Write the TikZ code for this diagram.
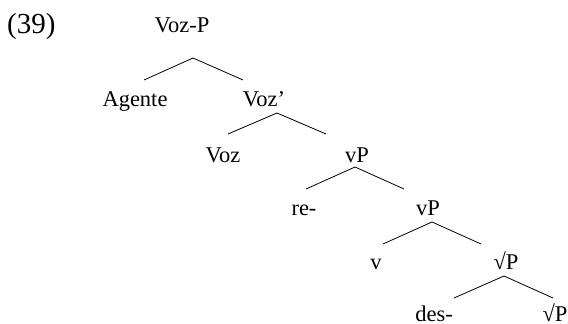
\documentclass[tikz,border=0pt]{standalone}
\usepackage{fontspec}
\setmainfont{Liberation Serif}
\begin{document}
\begin{tikzpicture}[x=1pt,y=-1pt,
  lbl/.style={anchor=base,inner sep=0pt,font=\fontsize{22.5}{27}\selectfont},
  exlbl/.style={anchor=base west,inner sep=0pt,font=\fontsize{29}{34}\selectfont},
  branch/.style={line width=0.8pt,black}]
\useasboundingbox (0,0) rectangle (568,324);
% labels
\node[exlbl] (ex) at (7,33) {(39)};
\node[lbl] (VozP) at (182,32) {Voz-P};
\node[lbl] (Agente) at (135,106) {Agente};
\node[lbl] (Vozbar) at (264,106) {Voz’};
\node[lbl] (Voz) at (223,162) {Voz};
\node[lbl] (vPa) at (357,162) {vP};
\node[lbl] (re) at (304,215) {re-};
\node[lbl] (vPb) at (428,215) {vP};
\node[lbl] (v) at (376,269) {v};
\node[lbl] (rPa) at (506,269) {√P};
\node[lbl] (des) at (434,321) {des-};
\node[lbl] (rPb) at (555,321) {√P};
% branch points
\coordinate (t1) at (193,58);  \coordinate (l1) at (144,80);  \coordinate (r1) at (243,80);
\coordinate (t2) at (277,113); \coordinate (l2) at (228,134); \coordinate (r2) at (326,134);
\coordinate (t3) at (355,167); \coordinate (l3) at (306,189); \coordinate (r3) at (404,189);
\coordinate (t4) at (432,222); \coordinate (l4) at (383,244); \coordinate (r4) at (481,244);
\coordinate (t5) at (504,276); \coordinate (l5) at (454,298); \coordinate (r5) at (553,298);
\foreach \i in {1,...,5}{
  \draw[branch] (l\i) -- (t\i) -- (r\i);
}
\end{tikzpicture}
\end{document}
